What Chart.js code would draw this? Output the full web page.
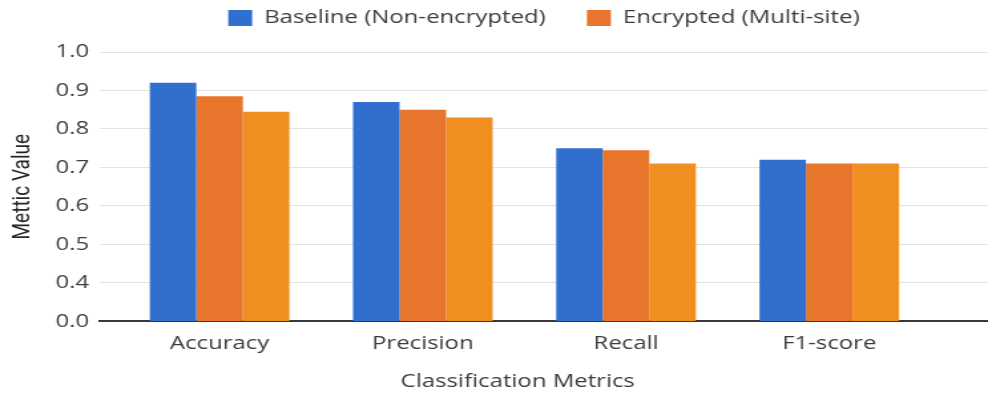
<!DOCTYPE html>
<html>
<head>
<meta charset="utf-8">
<script src="https://cdn.jsdelivr.net/npm/chart.js@4.4.0/dist/chart.umd.min.js"></script>
<style>
  html, body { margin: 0; padding: 0; background: #fff; overflow: hidden; }
  /* the chart is laid out narrow and widened horizontally */
  #stage { width: 743px; height: 393px; transform: scaleX(1.32974); transform-origin: 0 0; }
</style>
</head>
<body>
<div id="stage"><canvas id="chart"></canvas></div>
<script>
// ---- data ----
const CATEGORIES = ['Accuracy', 'Precision', 'Recall', 'F1-score'];
const SERIES_LABELS = ['Baseline (Non-encrypted)', 'Encrypted (Multi-site)'];
const BASELINE = [0.92, 0.87, 0.75, 0.72];
const ENCRYPTED = [0.885, 0.85, 0.745, 0.71];
const ENCRYPTED_SECOND = [0.845, 0.83, 0.71, 0.71];
const Y_TICK_VALUES = [0.3, 0.4, 0.5, 0.6, 0.7, 0.8, 0.9, 1.0];
const Y_TICK_LABELS = ['0.0', '0.4', '0.5', '0.6', '0.7', '0.8', '0.9', '1.0'];
const X_TITLE = 'Classification Metrics';
const Y_TITLE = 'Mettic Value';

const COLORS = ['#306fce', '#e7752c', '#f08f20'];
const TEXT = '#3c3c3c';
const Y_MIN = Y_TICK_VALUES[0];
const Y_MAX = Y_TICK_VALUES[Y_TICK_VALUES.length - 1];

const toPoints = (vals) => vals.map((v, i) => ({ x: i, y: v }));

const mkSet = (label, vals, color) => ({
  label,
  data: toPoints(vals),
  backgroundColor: color,
  borderWidth: 0,
  base: Y_MIN,
  barPercentage: 1.0,
  categoryPercentage: 0.687
});

// x-axis title, centred under the category groups
const xTitlePlugin = {
  id: 'xTitle',
  afterDraw(chart) {
    const xs = chart.scales.x;
    const cx = (xs.getPixelForValue(0) + xs.getPixelForValue(CATEGORIES.length - 1)) / 2 - 5;
    const ctx = chart.ctx;
    ctx.save();
    ctx.font = '18px "Open Sans"';
    ctx.fillStyle = TEXT;
    ctx.textAlign = 'center';
    ctx.textBaseline = 'middle';
    ctx.fillText(X_TITLE, cx, chart.chartArea.bottom + 60);
    ctx.restore();
  }
};

new Chart(document.getElementById('chart'), {
  type: 'bar',
  data: {
    datasets: [
      mkSet(SERIES_LABELS[0], BASELINE, COLORS[0]),
      mkSet(SERIES_LABELS[1], ENCRYPTED, COLORS[1]),
      mkSet(SERIES_LABELS[1], ENCRYPTED_SECOND, COLORS[2])
    ]
  },
  plugins: [xTitlePlugin],
  options: {
    responsive: true,
    maintainAspectRatio: false,
    animation: false,
    layout: { padding: { top: -22, left: 0, right: 0, bottom: 26 } },
    plugins: {
      tooltip: { enabled: false },
      // empty title used as a gap between the legend and the plot
      title: {
        display: true,
        text: '',
        position: 'top',
        weight: 2000,
        font: { size: 15, lineHeight: 1 },
        padding: 0
      },
      legend: {
        position: 'top',
        align: 'center',
        fullSize: false,
        weight: 3000,
        labels: {
          filter: (item) => item.datasetIndex < 2,
          boxWidth: 18,
          boxHeight: 16,
          padding: 31,
          color: TEXT,
          font: { family: '"Open Sans"', size: 18 }
        }
      }
    },
    scales: {
      x: {
        type: 'linear',
        offset: false,
        bounds: 'data',
        min: -0.589,
        max: 3.781,
        afterBuildTicks: (scale) => {
          scale.ticks = CATEGORIES.map((_, i) => ({ value: i }));
        },
        grid: { offset: false, drawOnChartArea: false, drawTicks: false },
        border: { display: true, color: '#383838', width: 2 },
        ticks: {
          autoSkip: false,
          maxRotation: 0,
          padding: 12,
          color: TEXT,
          font: { family: '"Open Sans"', size: 18 },
          callback: (v) => CATEGORIES[v]
        }
      },
      y: {
        min: Y_MIN,
        max: Y_MAX,
        afterBuildTicks: (scale) => {
          scale.ticks = Y_TICK_VALUES.map((v) => ({ value: v }));
        },
        grid: { color: '#e2e2e2', lineWidth: 1, drawTicks: false },
        border: { display: false },
        ticks: {
          padding: 8,
          color: TEXT,
          font: { family: '"Open Sans"', size: 18 },
          callback: (v, i) => Y_TICK_LABELS[i]
        },
        title: {
          display: true,
          text: Y_TITLE,
          color: '#262626',
          font: { family: 'Roboto', size: 19 },
          padding: { top: 6, bottom: 5 }
        }
      }
    }
  }
});
</script>
</body>
</html>
